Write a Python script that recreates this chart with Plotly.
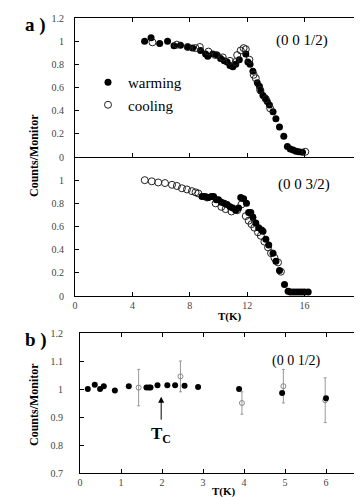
import plotly.graph_objects as go

# ---- Panel a, (0 0 1/2) ----
x_warm_half = [4.85, 5.3, 5.9, 6.45, 6.9, 7.35, 7.85, 8.2, 8.75, 9.1, 9.25, 9.6, 9.9, 10.15, 10.4, 10.6,
               10.8, 11.0, 11.2, 11.45, 11.9, 12.05, 12.2, 12.4, 12.7, 12.85, 12.95, 13.1, 13.25, 13.4,
               13.55, 13.8, 14.0, 14.25, 14.55, 14.8, 15.0, 15.2, 15.4, 15.6, 15.85]
y_warm_half = [1.0, 1.03, 0.98, 1.0, 0.96, 0.965, 0.95, 0.94, 0.92, 0.89, 0.87, 0.89, 0.88, 0.85, 0.83, 0.82,
               0.79, 0.78, 0.80, 0.84, 0.89, 0.82, 0.80, 0.74, 0.64, 0.61, 0.57, 0.53, 0.51, 0.48,
               0.45, 0.39, 0.33, 0.26, 0.18, 0.09, 0.07, 0.06, 0.05, 0.045, 0.04]
x_cool_half = [5.4, 7.1, 7.85, 8.4, 8.7, 9.3, 9.8, 10.3, 10.8, 11.2, 11.3, 11.55, 11.75, 11.9, 12.15,
               12.45, 12.6, 12.9, 13.3, 13.6, 16.05]
y_cool_half = [0.99, 0.97, 0.95, 0.94, 0.95, 0.91, 0.88, 0.86, 0.83, 0.82, 0.88, 0.92, 0.94, 0.93, 0.84,
               0.71, 0.68, 0.58, 0.50, 0.42, 0.045]

# ---- Panel a, (0 0 3/2) ----
x_warm_3half = [8.85, 9.05, 9.3, 9.5, 9.66, 9.85, 10.0, 10.2, 10.4, 10.6, 10.8, 11.0, 11.2, 11.4, 11.55,
                11.75, 11.95, 12.1, 12.25, 12.4, 12.6, 12.8, 13.0, 13.1, 13.3, 13.5, 13.8, 14.0, 14.25,
                14.6, 14.85, 15.0, 15.2, 15.4, 15.6, 15.8, 16.0, 16.25]
y_warm_3half = [0.86, 0.86, 0.85, 0.86, 0.86, 0.83, 0.83, 0.81, 0.80, 0.79, 0.77, 0.76, 0.74, 0.76, 0.85,
                0.84, 0.80, 0.72, 0.72, 0.68, 0.63, 0.59, 0.57, 0.56, 0.49, 0.44, 0.37, 0.30, 0.22,
                0.10, 0.04, 0.035, 0.035, 0.035, 0.035, 0.035, 0.035, 0.035]
x_cool_3half = [4.86, 5.35, 5.8, 6.27, 6.76, 7.1, 7.45, 7.8, 8.15, 8.4, 8.6, 9.2, 9.8, 10.2, 10.5, 10.9,
                11.3, 11.6, 11.9, 12.1, 12.3, 12.5, 12.75, 12.95, 13.2, 13.45, 13.66, 13.9, 14.15, 14.35]
y_cool_3half = [1.0, 0.99, 0.98, 0.975, 0.96, 0.95, 0.93, 0.92, 0.905, 0.895, 0.885, 0.85, 0.80, 0.77, 0.75,
                0.73, 0.74, 0.79, 0.69, 0.65, 0.62, 0.59, 0.55, 0.52, 0.47, 0.42, 0.37, 0.33, 0.29, 0.21]

# ---- Panel b, (0 0 1/2) low T ----
x_b_filled = [0.19, 0.36, 0.49, 0.58, 0.85, 1.19, 1.62, 1.68, 1.72, 1.89, 2.13, 2.32, 2.55, 2.88, 3.88, 4.93, 6.0]
y_b_filled = [1.0, 1.015, 1.0, 1.01, 0.995, 1.01, 1.005, 1.005, 1.005, 1.013, 1.013, 1.013, 1.012, 1.007,
              1.0, 0.986, 0.967]
x_b_open = [1.43, 2.45, 3.95, 4.96, 5.98]
y_b_open = [1.005, 1.045, 0.95, 1.01, 0.96]
err_b_open = [0.065, 0.055, 0.04, 0.06, 0.08]

SERIF = "Liberation Serif, Times New Roman, serif"
H = 497.0
W = 362.0

filled = dict(symbol="circle", size=7, color="black", line=dict(width=0))
opened = dict(symbol="circle-open", size=7, color="#222", line=dict(width=1))

fig = go.Figure()
# top subplot (0 0 1/2)
fig.add_trace(go.Scatter(x=x_warm_half, y=y_warm_half, mode="markers", marker=filled,
                         name="warming", xaxis="x2", yaxis="y2", showlegend=True))
fig.add_trace(go.Scatter(x=x_cool_half, y=y_cool_half, mode="markers", marker=opened,
                         name="cooling", xaxis="x2", yaxis="y2", showlegend=True))
# lower subplot (0 0 3/2)
fig.add_trace(go.Scatter(x=x_cool_3half, y=y_cool_3half, mode="markers", marker=opened,
                         name="cooling", xaxis="x", yaxis="y", showlegend=False))
fig.add_trace(go.Scatter(x=x_warm_3half, y=y_warm_3half, mode="markers", marker=filled,
                         name="warming", xaxis="x", yaxis="y", showlegend=False))
# panel b
fig.add_trace(go.Scatter(x=x_b_open, y=y_b_open, mode="markers",
                         marker=dict(symbol="circle-open", size=5, color="#888", line=dict(width=1)),
                         error_y=dict(type="data", array=err_b_open, visible=True, color="#999",
                                      thickness=1, width=1.5),
                         xaxis="x3", yaxis="y3", showlegend=False))
fig.add_trace(go.Scatter(x=x_b_filled, y=y_b_filled, mode="markers",
                         marker=dict(symbol="circle", size=6, color="black"),
                         xaxis="x3", yaxis="y3", showlegend=False))

tickfont = dict(family=SERIF, size=10, color="#444")
common = dict(showgrid=False, zeroline=False, showline=True, linecolor="black", linewidth=1,
              ticks="inside", ticklen=4, tickcolor="black", tickfont=tickfont,
              automargin=False, ticklabeloverflow="allow")

def px_x(p):
    return p / W

def px_y(p):
    return 1 - p / H

fig.update_layout(
    width=362, height=497,
    margin=dict(l=0, r=0, t=0, b=0),
    paper_bgcolor="white", plot_bgcolor="white",
    font=dict(family=SERIF, color="black"),
    xaxis=dict(domain=[px_x(67), px_x(354)], range=[0, 20], tickvals=[0, 4, 8, 12, 16, 20],
               anchor="y", mirror=False, **common),
    xaxis2=dict(domain=[px_x(67), px_x(354)], range=[0, 20], tickvals=[0, 4, 8, 12, 16, 20],
                anchor="y2", showticklabels=False, mirror="ticks", **common),
    yaxis=dict(domain=[px_y(288), px_y(149)], range=[0, 1.2], tickvals=[0, 0.2, 0.4, 0.6, 0.8, 1],
               anchor="x", ticklabelstandoff=8, mirror="ticks", **common),
    yaxis2=dict(domain=[px_y(149), px_y(10)], range=[0, 1.2],
                tickvals=[0, 0.2, 0.4, 0.6, 0.8, 1, 1.2], anchor="x2", ticklabelstandoff=8,
                mirror="ticks", **common),
    xaxis3=dict(domain=[px_x(72), px_x(359)], range=[0, 7], tickvals=[0, 1, 2, 3, 4, 5, 6, 7],
                anchor="y3", mirror="ticks", **common),
    yaxis3=dict(domain=[px_y(465), px_y(325)], range=[0.7, 1.2],
                tickvals=[0.7, 0.8, 0.9, 1, 1.1, 1.2], anchor="x3", ticklabelstandoff=14,
                mirror="ticks", **common),
    legend=dict(x=px_x(80), y=px_y(58), xanchor="left", yanchor="top", bgcolor="rgba(0,0,0,0)",
                font=dict(family=SERIF, size=15, color="black"), itemwidth=30, tracegroupgap=0),
)

annos = [
    dict(text="<b>a )</b>", x=px_x(27), y=px_y(17), size=19),
    dict(text="<b>b )</b>", x=px_x(28), y=px_y(332), size=19),
    dict(text="(0 0 1/2)", x=px_x(294), y=px_y(33), size=15),
    dict(text="(0 0 3/2)", x=px_x(296), y=px_y(176), size=15),
    dict(text="(0 0 1/2)", x=px_x(288), y=px_y(353), size=14),
    dict(text="<b>T(K)</b>", x=px_x(222), y=px_y(308), size=11),
    dict(text="<b>T(K)</b>", x=px_x(216), y=px_y(483), size=11),
]
for a in annos:
    fig.add_annotation(text=a["text"], x=a["x"], y=a["y"], xref="paper", yref="paper",
                       showarrow=False, xanchor="center", yanchor="middle",
                       font=dict(family=SERIF, size=a["size"], color="black"))

for yc in (148, 397):
    fig.add_annotation(text="<b>Counts/Monitor</b>", x=px_x(26), y=px_y(yc), xref="paper", yref="paper",
                       showarrow=False, textangle=-90, xanchor="center", yanchor="middle",
                       font=dict(family=SERIF, size=12, color="black"))

# Tc arrow and label
fig.add_annotation(x=1.98, y=0.972, ax=1.98, ay=0.885, xref="x3", yref="y3", axref="x3", ayref="y3",
                   text="", showarrow=True, arrowhead=2, arrowsize=1.2, arrowwidth=1, arrowcolor="black")
fig.add_annotation(text="<b>T</b><sub><b>C</b></sub>", x=1.98, y=0.835, xref="x3", yref="y3",
                   showarrow=False, xanchor="center", yanchor="middle",
                   font=dict(family=SERIF, size=17, color="black"))

fig.write_html("out.html")
